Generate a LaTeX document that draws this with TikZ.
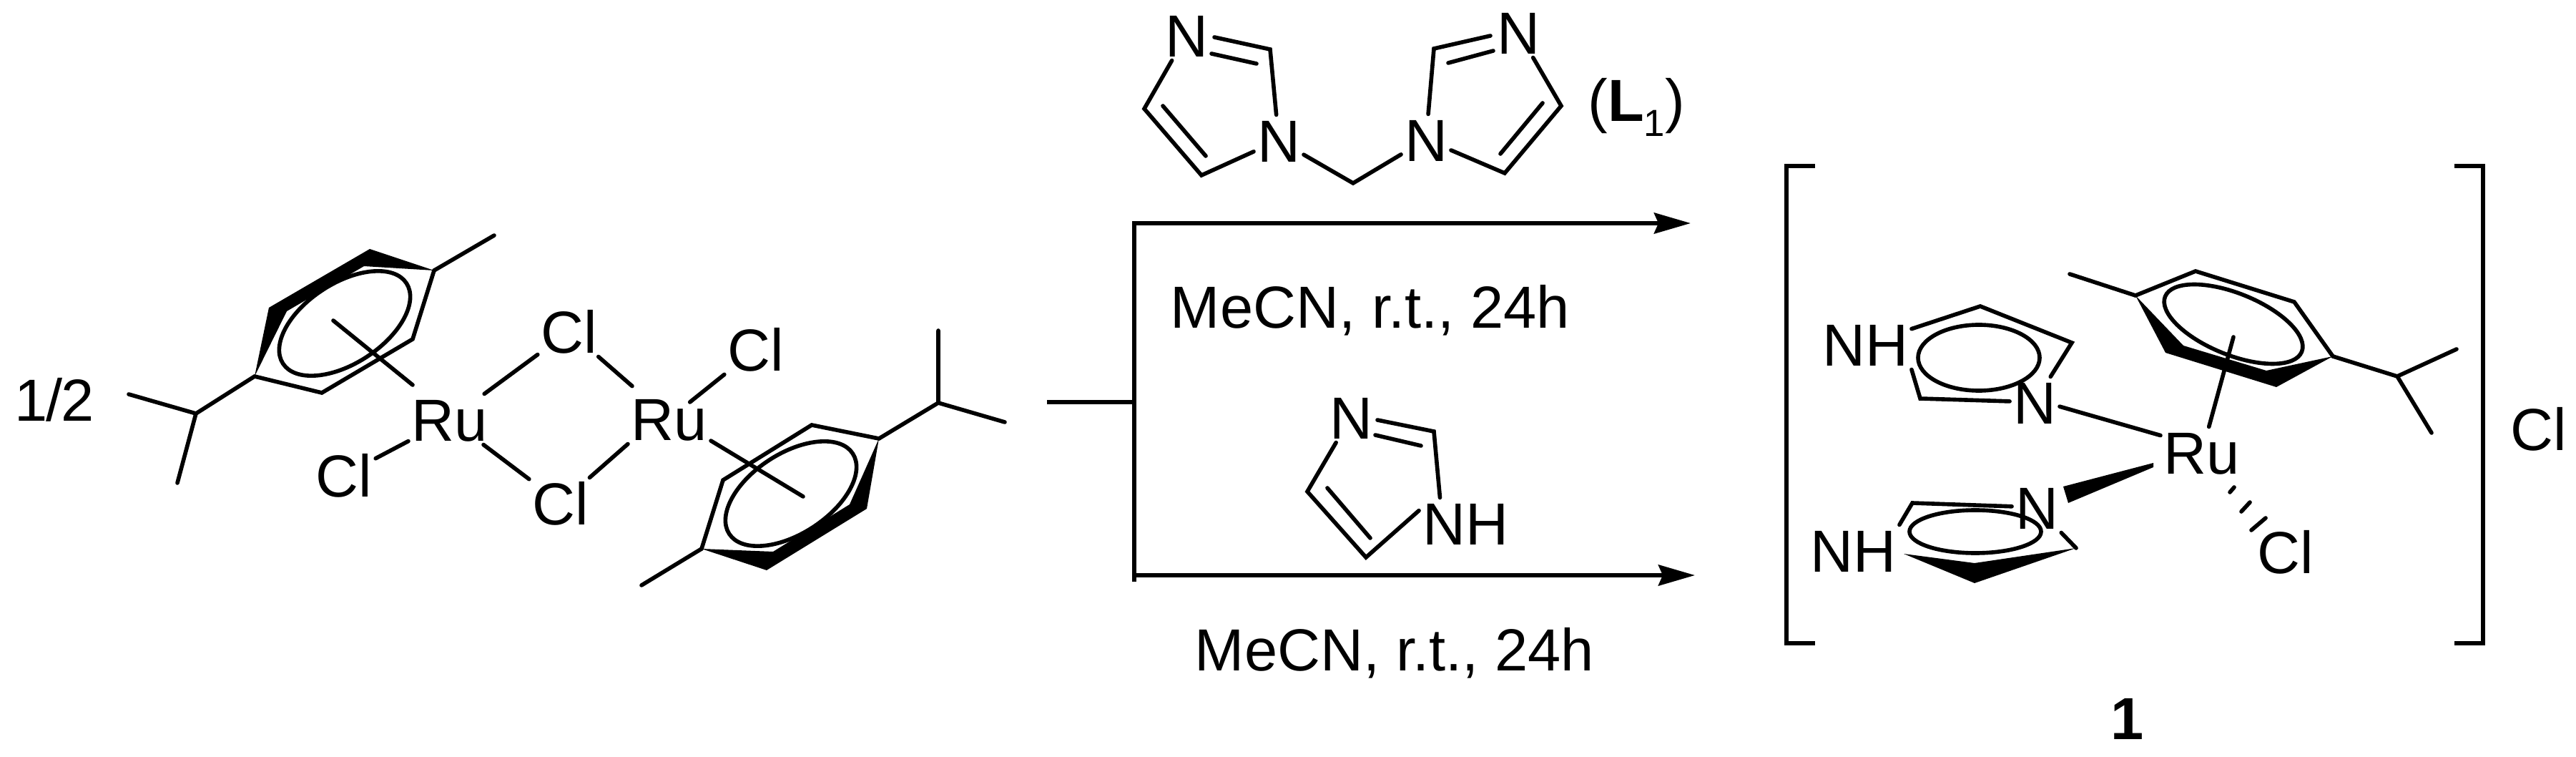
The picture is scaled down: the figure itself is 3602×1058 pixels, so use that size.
\documentclass[tikz,border=0pt]{standalone}
\usepackage{fontspec}
\setmainfont{Liberation Sans}
\usetikzlibrary{arrows.meta, positioning}
\tikzset{
	bond/.style={line width=1.6pt, line cap=round, line join=miter},
	rxn/.style={line width=1.7pt},
	bracket/.style={line width=1.56pt, line join=miter},
	wedge/.style={fill=black},
	headTip/.style={-{Stealth[length=5.1mm, width=2.9mm, inset=0.6mm]}},
	atom/.style={font=\fontsize{23.6}{28}\selectfont, inner sep=0pt, outer sep=0.05cm, text height=0.61cm, text depth=0pt}
}
% wedge ring: back edge thick, three thin edges, ring ellipse
\newcommand{\areneRing}[6]{
	\fill[wedge] #1;
	\draw[bond] #2;
	\draw[bond] (#3) ellipse [x radius=#4, y radius=#5, rotate=#6];
}
\begin{document}
\begin{tikzpicture}[x=0.01cm, y=-0.01cm]
			\useasboundingbox (0,0) rectangle (3602,1058);
			\node[atom] (half) at (76,558) {1\kern-0.02cm/\kern-0.03cm 2};
			% First dimer half
			\coordinate (aA) at (356,526);
			\coordinate (aB) at (450,549);
			\coordinate (aC) at (577,474);
			\coordinate (aD) at (607,378);
			\coordinate (aMe) at (691,329);
			\coordinate (aIso) at (274,578);
			\coordinate (aIsoA) at (180,551);
			\coordinate (aIsoB) at (248,675);
			\coordinate (aTop) at (466,448);
			\coordinate (aLow) at (577,538);
			\areneRing{(aA) -- (376,430) -- (517,348) -- (aD) -- (509,372) -- (401,435) -- cycle}{(aD) -- (aC) -- (aB) -- (aA)}{482,452}{103}{56}{33}
			\draw[bond] (aD) -- (aMe);
			\draw[bond] (aIsoA) -- (aIso) -- (aIsoB);
			\draw[bond] (aIso) -- (aA);
			\draw[bond] (aTop) -- (aLow);
			\node[atom] (ruA) at (629,586) {Ru};
			\node[atom] (clA) at (481,664) {Cl};
			\node[atom] (clB) at (796,463) {Cl};
			\node[atom] (clC) at (784,703) {Cl};
			\node[atom] (ruB) at (936,585) {Ru};
			\node[atom] (clD) at (1057,488) {Cl};
			\draw[bond] (ruA) -- (clA);
			\draw[bond] (ruA) -- (clB);
			\draw[bond] (ruA) -- (clC);
			\draw[bond, shorten <=0.15cm] (ruB) -- (clB);
			\draw[bond] (ruB.south west) -- (clC);
			\draw[bond, shorten <=-0.2cm] (ruB) -- (clD);
			% Second dimer half
			\coordinate (bA) at (1229,613);
			\coordinate (bB) at (1135,594);
			\coordinate (bC) at (1011,671);
			\coordinate (bD) at (981,767);
			\coordinate (bMe) at (897,818);
			\coordinate (bIso) at (1312,563);
			\coordinate (bIsoA) at (1312,462);
			\coordinate (bIsoB) at (1405,590);
			\coordinate (bTop) at (994,616);
			\coordinate (bLow) at (1123,694);
			\areneRing{(bA) -- (1212,711) -- (1072,797) -- (bD) -- (1081,771) -- (1188,705) -- cycle}{(bA) -- (bB) -- (bC) -- (bD)}{1106,690}{103}{56}{33}
			\draw[bond] (bD) -- (bMe);
			\draw[bond] (bIsoA) -- (bIso) -- (bIsoB);
			\draw[bond] (bIso) -- (bA);
			\draw[bond] (bTop) -- (bLow);
			% Reaction arrows
			\coordinate (tail) at (1464,562);
			\coordinate (stem) at (1586,562);
			\coordinate (stemEnd) at (1586,813);
			\coordinate (lowStart) at (1586,804);
			\coordinate (upTip) at (2364,312);
			\coordinate (lowTip) at (2370,804);
			\draw[rxn] (tail) -- (stem);
			\draw[rxn, headTip] (stemEnd) |- (upTip);
			\draw[rxn, headTip] (lowStart) -- (lowTip);
			\node[atom] (condUp) at (1916,428) {MeCN, r.t., 24h};
			\node[atom] (condLow) at (1950,907) {MeCN, r.t., 24h};
			% Bridged ligand
			\node[atom] (nA) at (1659,49) {N};
			\node[atom] (nB) at (1788,196) {N};
			\node[atom] (nC) at (1994,195) {N};
			\node[atom] (nD) at (2123,45) {N};
			\coordinate (lA) at (1776,69);
			\coordinate (lB) at (1600,152);
			\coordinate (lC) at (1680,245);
			\coordinate (lD) at (1892,256);
			\coordinate (lE) at (2104,242);
			\coordinate (lF) at (2183,148);
			\coordinate (lG) at (2005,68);
			\draw[bond] (1698,52) -- (lA) -- (nB);
			\draw[bond] (1694,75) -- (1757,89);
			\draw[bond] (nA) -- (lB) -- (lC) -- (nB);
			\draw[bond] (1626,148) -- (1686,218);
			\draw[bond] (nB) -- (lD) -- (nC);
			\draw[bond] (nC) -- (lE) -- (lF) -- (nD);
			\draw[bond] (2098,215) -- (2157,144);
			\draw[bond] (2084,50) -- (lG) -- (nC);
			\draw[bond] (2088,71) -- (2025,88);
			\node[atom, anchor=base, text height=, text depth=] (ligTag) at (2288,170) {(\textbf{L}\raisebox{-0.2cm}{\fontsize{15}{15}\selectfont 1})};
			% Imidazole reagent
			\node[atom] (nE) at (1889,583) {N};
			\node[atom] (nhA) at (2049,731) {NH};
			\coordinate (iA) at (2005,603);
			\coordinate (iB) at (1828,687);
			\coordinate (iC) at (1910,779);
			\draw[bond] (1926,587) -- (iA) -- (nhA.135);
			\draw[bond] (1923,608) -- (1987,623);
			\draw[bond] (nE) -- (iB) -- (iC) -- (nhA.165);
			\draw[bond] (1856,682) -- (1916,752);
			% Product
			\draw[bracket] (2538,232) -- (2498,232) -- (2498,899) -- (2538,899);
			\draw[bracket] (3432,232) -- (3472,232) -- (3472,899) -- (3432,899);
			\node[atom] (ruC) at (3079,632) {Ru};
			\node[atom] (nF) at (2845,562) {N};
			\node[atom] (nG) at (2848,709) {N};
			\node[atom] (nhB) at (2608,481) {NH};
			\node[atom] (nhC) at (2591,769) {NH};
			\node[atom] (clE) at (3196,771) {Cl};
			\node[atom] (clF) at (3550,599) {Cl};
			\node[atom, font=\fontsize{23.6}{28}\selectfont\bfseries] (prodNum) at (2975,1003) {1};
			\coordinate (pA) at (2769,428);
			\coordinate (pB) at (2897,479);
			\coordinate (pC) at (2685,557);
			\coordinate (pD) at (2674,703);
			\coordinate (pE) at (2903,766);
			\draw[bond] (nhB) -- (pA) -- (pB) -- (nF);
			\draw[bond] (nhB.south east) -- (pC) -- (nF);
			\draw[bond] (2767,500) ellipse [x radius=85, y radius=46];
			\draw[bond] (nF.-10) -- (ruC.158);
			\fill[wedge] (3011,647) -- (3011,653) -- (2892,703) -- (2885,680) -- cycle;
			\draw[bond] (nhC.north east) -- (pD) -- (nG);
			\draw[bond] (nG) -- (pE);
			\draw[bond] (2762,743) ellipse [x radius=92, y radius=30];
			\fill[wedge] (2662,774) -- (2761,787) -- (pE) -- (2761,815) -- cycle;
			\draw[bond] (3124,681) -- (3118,688);
			\draw[bond] (3146,702) -- (3134,715);
			\draw[bond] (3168,724) -- (3148,741);
			% Product arene
			\coordinate (cA) at (2986,413);
			\coordinate (cB) at (3070,379);
			\coordinate (cC) at (3208,422);
			\coordinate (cD) at (3262,498);
			\coordinate (cMe) at (2894,383);
			\coordinate (cIso) at (3352,526);
			\coordinate (cIsoA) at (3435,488);
			\coordinate (cIsoB) at (3400,605);
			\coordinate (cTop) at (3123,471);
			\areneRing{(cA) -- (3028,493) -- (3183,541) -- (cD) -- (3169,518) -- (3053,483) -- cycle}{(cA) -- (cB) -- (cC) -- (cD)}{3123,453}{103}{43}{-22}
			\draw[bond] (cA) -- (cMe);
			\draw[bond] (cD) -- (cIso);
			\draw[bond] (cIsoA) -- (cIso) -- (cIsoB);
			\draw[bond] (ruC) -- (cTop);
			\end{tikzpicture}
\end{document}
